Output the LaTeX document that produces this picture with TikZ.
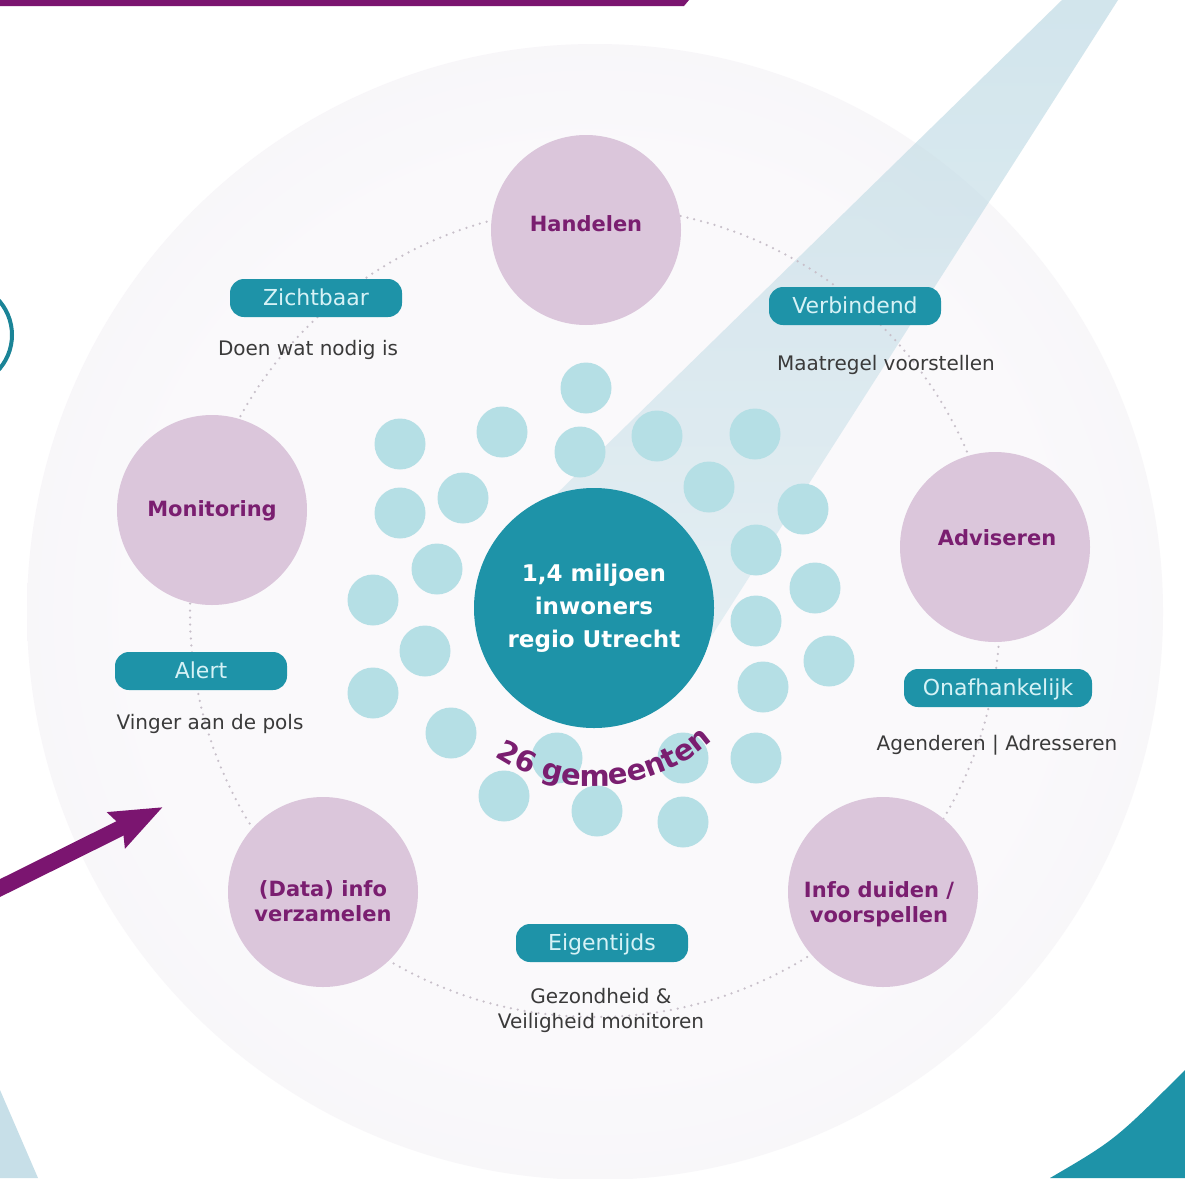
\documentclass[tikz,border=0pt]{standalone}
\usepackage{fontspec}
\setmainfont{DejaVu Sans}
\usetikzlibrary{arrows.meta,decorations.text,calc}

\definecolor{tealmain}{RGB}{30,147,168}
\definecolor{dotc}{RGB}{181,223,229}
\definecolor{satc}{RGB}{219,198,219}
\definecolor{purp}{RGB}{122,30,112}
\definecolor{barpurp}{RGB}{123,21,112}
\definecolor{pilltxt}{RGB}{214,242,246}
\definecolor{desc}{RGB}{58,58,58}
\definecolor{beamc}{RGB}{180,212,224}
\definecolor{lavin}{RGB}{250,249,251}
\definecolor{lavmid}{RGB}{243,240,245}
\definecolor{lavout}{RGB}{235,229,238}
\definecolor{ringc}{RGB}{200,192,202}

\pgfdeclareradialshading{bigdisc}{\pgfpoint{0bp}{0bp}}{color(0bp)=(lavin); color(20bp)=(lavin); color(38bp)=(lavmid); color(50bp)=(lavout)}

\tikzset{
  sat/.style={circle, fill=satc, minimum size=190pt, inner sep=0pt},
  sattxt/.style={text=purp, font=\fontsize{21}{25}\selectfont\bfseries, align=center},
  dotnode/.style={circle, fill=dotc, minimum size=51pt, inner sep=0pt},
  pill/.style={rounded corners=14pt, fill=tealmain, text=pilltxt, minimum width=172pt, minimum height=38pt, inner sep=0pt, font=\fontsize{22}{26}\selectfont, text height=16pt, text depth=2pt},
  desctxt/.style={text=desc, font=\fontsize{20}{25}\selectfont, align=center}
}

\begin{document}
\begin{tikzpicture}[x=1pt,y=-1pt]
\useasboundingbox (0,0) rectangle (1185,1178);
\fill[white] (0,0) rectangle (1185,1178);

% bottom-left pale beam
\fill[beamc!75!white] (0,1090) -- (38,1178) -- (0,1178) -- cycle;

% big disc
\shade[shading=bigdisc] (595,612) circle (568);

% light beam (fading slightly toward the hub)
\shade[top color=beamc, middle color=beamc!95!white, bottom color=beamc!55!white, opacity=0.6]
  (1062,0) -- (1118,0) -- (709,640) -- (540,510) -- cycle;

% bottom-right teal
\fill[tealmain] (1050,1178) .. controls (1115,1140) .. (1185,1070) -- (1185,1178) -- cycle;

% dotted ring
\draw[ringc, line width=2.5pt, line cap=round, dash pattern=on 0pt off 7pt] (595,612) circle (405);

% satellites
\node[sat] (hand) at (586,230) {};
\node[sattxt] (handt) at (586,224) {Handelen};
\node[sat] (moni) at (212,510) {};
\node[sattxt] (monit) at (212,511) {Monitoring};
\node[sat] (advi) at (995,547) {};
\node[sattxt] (advit) at (997,538) {Adviseren};
\node[sat] (data) at (323,892) {};
\node[sattxt] (datat) at (323,901) {(Data) info\\verzamelen};
\node[sat] (info) at (883,892) {};
\node[sattxt] (infot) at (879,904) {Info duiden /\\voorspellen};

% small dots
\foreach \p [count=\i] in {(586,388),(400,444),(502,432),(580,452),(657,436),(755,434),
  (463,498),(400,513),(709,487),(803,509),(437,569),(756,550),(373,600),(815,588),
  (425,651),(756,621),(829,661),(373,693),(763,687),(451,733),(756,758),(557,758),
  (683,758),(504,796),(597,811),(683,822)}
  \node[dotnode] (dot\i) at \p {};

% hub
\node[circle, fill=tealmain, minimum size=240pt, inner sep=0pt, text=white,
      font=\fontsize{23}{33}\selectfont\bfseries, align=center] (hub) at (594,608)
      {1,4 miljoen\\inwoners\\regio Utrecht};

% curved label
\path[decorate, decoration={text along path, text align=center,
   text={|\fontsize{29}{29}\selectfont\bfseries\color{purp}|26 gemeenten}}]
   (hub.center) ++(-132:178pt) arc[start angle=-132, end angle=-40, radius=178pt];

% pills
\node[pill] (zicht) at (316,298) {Zichtbaar};
\node[pill] (verb) at (855,306) {Verbindend};
\node[pill] (alert) at (201,671) {Alert};
\node[pill, minimum width=188pt] (onaf) at (998,688) {Onafhankelijk};
\node[pill] (eigen) at (602,943) {Eigentijds};

% descriptions
\node[desctxt] (zichtd) at (308,350) {Doen wat nodig is};
\node[desctxt] (verbd) at (886,365) {Maatregel voorstellen};
\node[desctxt] (alertd) at (210,724) {Vinger aan de pols};
\node[desctxt] (onafd) at (997,745) {Agenderen | Adresseren};
\node[desctxt] (eigend) at (601,1010) {Gezondheid \&\\Veiligheid monitoren};

% arrow
\coordinate (arrS) at (-10,893);
\coordinate (arrE) at (163,807);
\draw[barpurp, line width=16pt, -{Stealth[length=51pt,width=38pt,inset=6pt]}] (arrS) -- (arrE);

% top bar
\fill[barpurp] (0,0) -- (689,0) -- (684,6) -- (0,6) -- cycle;

% left ring
\draw[tealmain!90!black, line width=4pt] (-40,335) circle (52);
\end{tikzpicture}
\end{document}
